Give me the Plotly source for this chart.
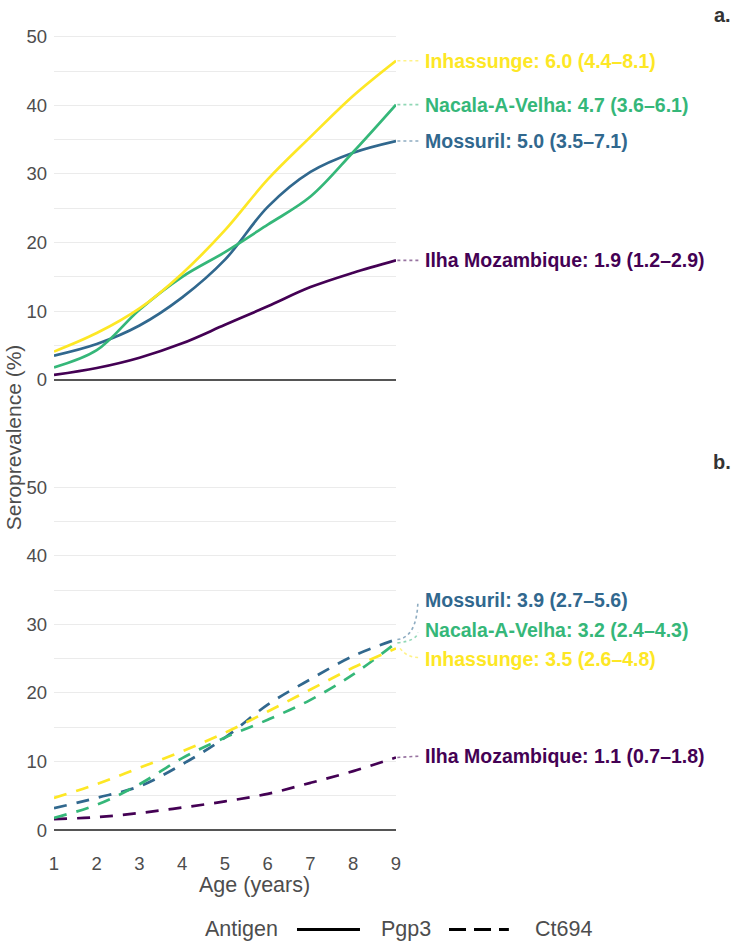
import plotly.graph_objects as go
from plotly.subplots import make_subplots

# ---------------- data ----------------
ages = [1, 2, 3, 4, 5, 6, 7, 8, 9]
districts = ["Ilha Mozambique", "Mossuril", "Nacala-A-Velha", "Inhassunge"]
colors = ["#440154", "#31688E", "#35B779", "#FDE725"]

pgp3_ilha = [0.7, 1.7, 3.2, 5.3, 8.0, 10.7, 13.5, 15.6, 17.4]
pgp3_moss = [3.5, 5.2, 7.9, 12.0, 17.5, 25.2, 30.3, 33.1, 34.8]
pgp3_naca = [1.8, 4.3, 10.2, 15.0, 18.6, 22.6, 26.7, 33.2, 40.1]
pgp3_inha = [4.1, 6.8, 10.4, 15.5, 21.8, 29.2, 35.4, 41.4, 46.5]

ct694_ilha = [1.6, 1.9, 2.5, 3.3, 4.2, 5.3, 6.9, 8.6, 10.6]
ct694_moss = [3.2, 4.7, 6.4, 9.6, 13.5, 18.3, 22.0, 25.4, 27.8]
ct694_naca = [1.8, 3.7, 6.7, 10.5, 13.5, 16.1, 19.0, 22.7, 27.3]
ct694_inha = [4.7, 6.7, 9.1, 11.5, 14.2, 17.3, 20.5, 23.7, 26.5]

pgp3_labels = ["Ilha Mozambique: 1.9 (1.2–2.9)", "Mossuril: 5.0 (3.5–7.1)",
               "Nacala-A-Velha: 4.7 (3.6–6.1)", "Inhassunge: 6.0 (4.4–8.1)"]
ct694_labels = ["Ilha Mozambique: 1.1 (0.7–1.8)", "Mossuril: 3.9 (2.7–5.6)",
                "Nacala-A-Velha: 3.2 (2.4–4.3)", "Inhassunge: 3.5 (2.6–4.8)"]

# repelled label positions (y) for the lower panel
ct694_label_y = [10.8, 33.6, 29.2, 24.9]

pgp3_series = [pgp3_ilha, pgp3_moss, pgp3_naca, pgp3_inha]
ct694_series = [ct694_ilha, ct694_moss, ct694_naca, ct694_inha]

FONT = "Liberation Sans, Arial, Helvetica, sans-serif"
GREY = "#4d4d4d"

fig = make_subplots(rows=2, cols=1)

for name, col, ys in zip(districts, colors, pgp3_series):
    fig.add_trace(go.Scatter(x=ages, y=ys, mode="lines", name=name,
                             line=dict(color=col, width=2.7, shape="spline", smoothing=1.0),
                             showlegend=False), row=1, col=1)
for name, col, ys in zip(districts, colors, ct694_series):
    fig.add_trace(go.Scatter(x=ages, y=ys, mode="lines", name=name,
                             line=dict(color=col, width=2.7, shape="spline", smoothing=1.0,
                                       dash="13px,10px"),
                             showlegend=False), row=2, col=1)


def rgba(hexc, a):
    h = hexc.lstrip("#")
    return "rgba(%d,%d,%d,%.2f)" % (int(h[0:2], 16), int(h[2:4], 16), int(h[4:6], 16), a)


LX = 1.079   # label start (paper x)
CX = 1.072   # connector end (paper x)
annotations = []
shapes = []

# top panel labels + connectors
for lab, col, ys in zip(pgp3_labels, colors, pgp3_series):
    yv = ys[-1]
    annotations.append(dict(x=LX, y=yv, xref="paper", yref="y", text="<b>%s</b>" % lab,
                            showarrow=False, xanchor="left", yanchor="middle",
                            font=dict(family=FONT, size=19.5, color=col)))
    shapes.append(dict(type="line", xref="paper", yref="y", x0=1.004, x1=CX, y0=yv, y1=yv,
                       line=dict(color=rgba(col, 0.55), width=1.6, dash="dot")))

# bottom panel labels + curved connectors
for lab, col, ys, ly in zip(ct694_labels, colors, ct694_series, ct694_label_y):
    yv = ys[-1]
    annotations.append(dict(x=LX, y=ly, xref="paper", yref="y2", text="<b>%s</b>" % lab,
                            showarrow=False, xanchor="left", yanchor="middle",
                            font=dict(family=FONT, size=19.5, color=col)))
    if abs(ly - yv) < 1.0:
        path = "M 1.004,%f L %f,%f" % (yv, CX, ly)
    elif ly > yv:
        path = "M 1.004,%f Q %f,%f %f,%f" % (yv, CX - 0.012, yv + 0.3, CX - 0.008, ly - 0.4)
    else:
        path = "M 1.012,%f Q %f,%f %f,%f" % (yv, 1.035, ly + 0.1, CX, ly + 0.3)
    shapes.append(dict(type="path", xref="paper", yref="y2", path=path,
                       line=dict(color=rgba(col, 0.55), width=1.6, dash="dot")))

# panel tags
annotations.append(dict(x=1.985, y=1.0097, xref="paper", yref="paper", text="<b>a.</b>",
                        showarrow=False, xanchor="right", yanchor="middle",
                        font=dict(family=FONT, size=20, color="#333333")))
annotations.append(dict(x=1.985, y=0.4682, xref="paper", yref="paper", text="<b>b.</b>",
                        showarrow=False, xanchor="right", yanchor="middle",
                        font=dict(family=FONT, size=20, color="#333333")))

# axis titles
annotations.append(dict(x=0.5848, y=-0.0454, xref="paper", yref="paper", text="Age (years)",
                        showarrow=False, xanchor="center", yanchor="middle",
                        font=dict(family=FONT, size=21.5, color=GREY)))
annotations.append(dict(x=-0.1579, y=0.4985, xref="paper", yref="paper", text="Seroprevalence (%)",
                        showarrow=False, xanchor="left", yanchor="middle", textangle=-90,
                        font=dict(family=FONT, size=21, color=GREY)))

# legend (manual)
LY = -0.0987
annotations.append(dict(x=0.4357, y=LY, xref="paper", yref="paper", text="Antigen",
                        showarrow=False, xanchor="left", yanchor="middle",
                        font=dict(family=FONT, size=21.5, color=GREY)))
annotations.append(dict(x=0.9503, y=LY, xref="paper", yref="paper", text="Pgp3",
                        showarrow=False, xanchor="left", yanchor="middle",
                        font=dict(family=FONT, size=21.5, color=GREY)))
annotations.append(dict(x=1.4006, y=LY, xref="paper", yref="paper", text="Ct694",
                        showarrow=False, xanchor="left", yanchor="middle",
                        font=dict(family=FONT, size=21.5, color=GREY)))
shapes.append(dict(type="line", xref="paper", yref="paper", x0=0.7105, x1=0.8947, y0=LY, y1=LY,
                   line=dict(color="black", width=3)))
shapes.append(dict(type="line", xref="paper", yref="paper", x0=1.155, x1=1.33, y0=LY, y1=LY,
                   line=dict(color="black", width=3, dash="17px,8px")))

yax = dict(range=[-2.6, 52], tickvals=[0, 10, 20, 30, 40, 50], showgrid=True,
           gridcolor="#ebebeb", gridwidth=1.2,
           minor=dict(tickvals=[5, 15, 25, 35, 45], showgrid=True, gridcolor="#ebebeb", gridwidth=1.0),
           zeroline=True, zerolinecolor="#555555", zerolinewidth=1.6,
           showline=False, ticks="", tickfont=dict(family=FONT, size=18.5, color=GREY),
           ticklabelstandoff=6, fixedrange=True)
xax = dict(range=[1, 9], tickvals=ages, showgrid=False, zeroline=False, showline=False,
           ticks="", tickfont=dict(family=FONT, size=18.5, color=GREY), domain=[0, 1])

fig.update_layout(
    width=740, height=944,
    margin=dict(l=54, r=344, t=23, b=95.5),
    paper_bgcolor="white", plot_bgcolor="white",
    font=dict(family=FONT, color=GREY),
    showlegend=False,
    xaxis=dict(xax, showticklabels=False),
    xaxis2=dict(xax, showticklabels=True, ticklabelstandoff=2),
    yaxis=dict(yax, domain=[0.546, 1.0]),
    yaxis2=dict(yax, domain=[0.0, 0.454]),
    annotations=annotations,
    shapes=shapes,
)

# remove the browser's default 8px body margin so the 740x944 figure fills the window
fig.write_html("out.html", config={"displayModeBar": False},
               post_script="document.body.style.margin='0px';")
